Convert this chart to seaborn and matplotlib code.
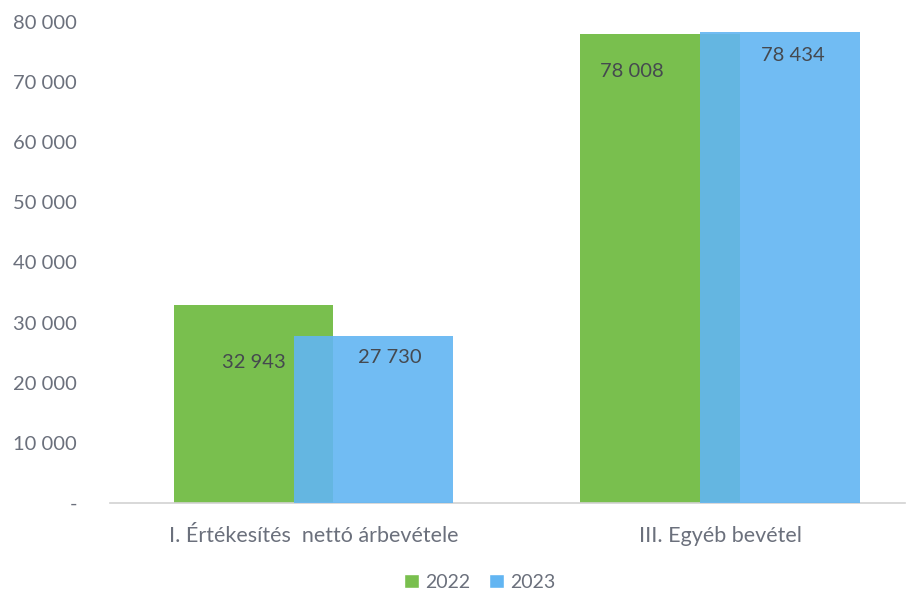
import seaborn as sns
import matplotlib.pyplot as plt
import pandas as pd
from matplotlib.ticker import FuncFormatter
from matplotlib.patches import Patch

# adatok
categories = ['I. Értékesítés  nettó árbevétele', 'III. Egyéb bevétel']
years = ['2022', '2023']
values_2022 = [32943, 78008]
values_2023 = [27730, 78434]

green = '#79BF4E'
blue = '#62B5F2'
text_gray = '#6b707c'

df = pd.DataFrame({
    'kategoria': categories * 2,
    'ev': [years[0]] * 2 + [years[1]] * 2,
    'ertek': values_2022 + values_2023,
})

sns.set_style('white')
plt.rcParams['font.family'] = ['Lato', 'DejaVu Sans']

fig = plt.figure(figsize=(9.1, 6), dpi=100)
ax = fig.add_axes([0.121, 0.162, 0.874, 0.801])

sns.barplot(data=df, x='kategoria', y='ertek', hue='ev',
            palette=[green, blue], width=0.59, dodge=True,
            saturation=1, legend=False, ax=ax)

# atfedo oszlopok
bar_w = 0.393
for i, p in enumerate(ax.patches):
    c = p.get_x() + p.get_width() / 2
    p.set_width(bar_w)
    p.set_x(c - bar_w / 2)
    p.set_edgecolor('none')
    if i >= 2:
        p.set_alpha(0.9)
        p.set_zorder(3)
    else:
        p.set_zorder(2)

# adatcimkek
def fmt(v):
    return f'{v:,.0f}'.replace(',', ' ')

label_dx = [[0.0, 0.04], [-0.07, 0.03]]
label_dy = [[9600, 3500], [6200, 3900]]
for gi in range(2):
    for hi, vals in enumerate([values_2022, values_2023]):
        p = ax.patches[hi * 2 + gi]
        cx = p.get_x() + p.get_width() / 2 + label_dx[gi][hi]
        ax.text(cx, vals[gi] - label_dy[gi][hi], fmt(vals[gi]),
                ha='center', va='center', fontsize=14.5,
                color='#45494f', zorder=5)

ax.set_xlim(-0.5, 1.455)
ax.set_ylim(0, 80000)
ax.set_yticks(range(0, 80001, 10000))
ax.yaxis.set_major_formatter(FuncFormatter(lambda v, _: '-' if v == 0 else fmt(v)))
ax.tick_params(axis='y', length=0, pad=24, labelsize=14.5, labelcolor=text_gray)
ax.tick_params(axis='x', length=0, pad=17, labelsize=15.5, labelcolor=text_gray)
ax.set_xlabel('')
ax.set_ylabel('')

for s in ['top', 'right', 'left']:
    ax.spines[s].set_visible(False)
ax.spines['bottom'].set_color('#d2d2d2')
ax.spines['bottom'].set_linestyle((0, (1, 1)))
ax.spines['bottom'].set_linewidth(1.2)

handles = [Patch(facecolor=green, label=years[0]),
           Patch(facecolor=blue, label=years[1])]
fig.legend(handles=handles, loc='center', bbox_to_anchor=(0.527, 0.03),
           ncol=2, frameon=False, fontsize=14, handlelength=0.75,
           handleheight=0.75, handletextpad=0.3, columnspacing=1.0,
           labelcolor=text_gray)

fig.savefig('out.png', dpi=100)
